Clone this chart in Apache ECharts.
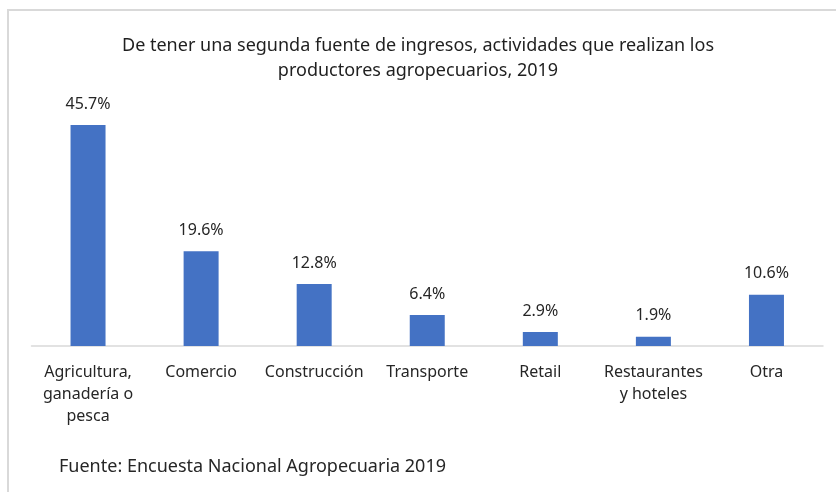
<!DOCTYPE html>
<html>
<head>
    <meta charset="utf-8">
    <title>Segunda fuente de ingresos</title>
    <script src="https://cdn.jsdelivr.net/npm/echarts@6/dist/echarts.min.js"></script>
    <style>
        html, body { margin: 0; padding: 0; background: #fff; }
    </style>
</head>
<body>
<div id="main" style="width: 836px;height:492px;"></div>
<script type="text/javascript">
    // categorias y porcentajes
    var categorias = ['Agricultura,\nganadería o\npesca', 'Comercio', 'Construcción', 'Transporte', 'Retail', 'Restaurantes\ny hoteles', 'Otra'];
    var valores = [45.7, 19.6, 12.8, 6.4, 2.9, 1.9, 10.6];

    var myChart = echarts.init(document.getElementById('main'));

    var option = {
        backgroundColor: '#fff',
        title: [{
            left: 'center',
            top: 28,
            text: 'De tener una segunda fuente de ingresos, actividades que realizan los\nproductores agropecuarios, 2019',
            textStyle: {
                fontFamily: 'Noto Sans, sans-serif',
                fontSize: 18,
                fontWeight: 'normal',
                color: '#1f1f1f',
                lineHeight: 25
            }
        }, {
            left: 54,
            top: 453,
            text: 'Fuente: Encuesta Nacional Agropecuaria 2019',
            textStyle: {
                fontFamily: 'Noto Sans, sans-serif',
                fontSize: 18,
                fontWeight: 'normal',
                color: '#262626'
            }
        }],
        graphic: [{
            type: 'rect',
            shape: { x: 8, y: 10, width: 840, height: 500 },
            style: { fill: 'none', stroke: '#d9d9d9', lineWidth: 2 }
        }],
        grid: {
            left: 31.5,
            right: 13,
            top: 104.2,
            bottom: 146
        },
        xAxis: {
            type: 'category',
            data: categorias,
            axisLine: { lineStyle: { color: '#d9d9d9', width: 1.5 } },
            axisTick: { show: false },
            axisLabel: {
                interval: 0,
                margin: 15,
                fontFamily: 'Noto Sans, sans-serif',
                fontSize: 16,
                lineHeight: 22,
                color: '#262626'
            }
        },
        yAxis: {
            type: 'value',
            min: 0,
            max: 50,
            show: false,
            splitLine: { show: false }
        },
        series: [{
            type: 'bar',
            data: valores,
            barWidth: 35,
            itemStyle: { color: '#4472c4' },
            label: {
                show: true,
                position: 'top',
                distance: 13,
                formatter: function (p) { return p.value.toFixed(1) + '%'; },
                fontFamily: 'Noto Sans, sans-serif',
                fontSize: 16,
                color: '#262626'
            }
        }]
    };
    myChart.setOption(option);
</script>
</body>
</html>
